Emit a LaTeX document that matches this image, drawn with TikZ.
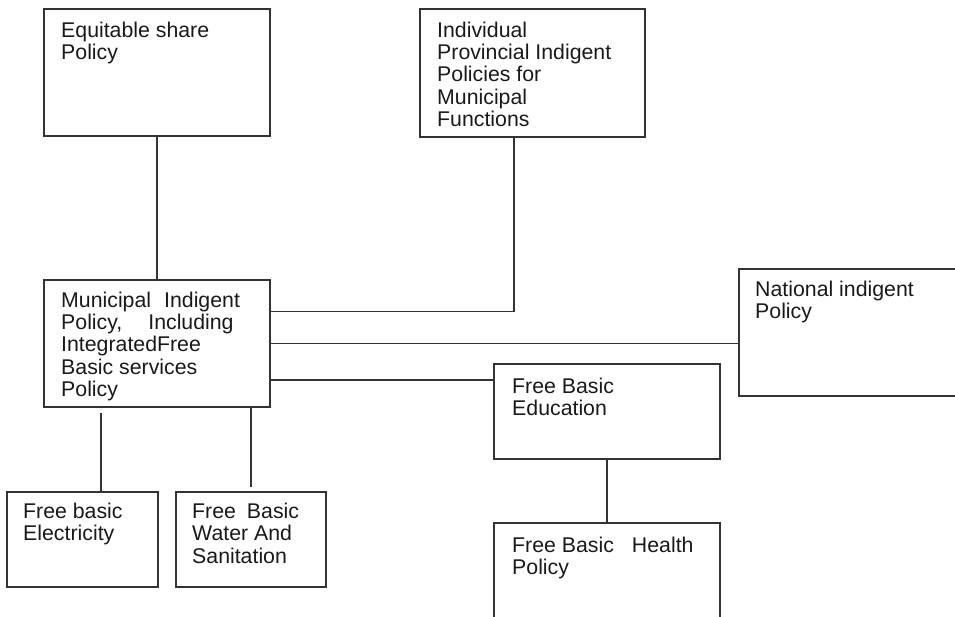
\documentclass[tikz,border=0pt]{standalone}
\usepackage{fontspec}
\setmainfont{Liberation Sans}
\usetikzlibrary{positioning}

\begin{document}
\begin{tikzpicture}[x=1pt,y=-1pt,
    box/.style={draw=black!80, line width=1.3pt, anchor=north west,
      inner sep=0pt, outer sep=0pt},
    boxtext/.style={inner sep=0pt, align=left, text=black!90,
      font=\fontsize{21.3}{22.4}\selectfont},
    link/.style={draw=black!80, line width=1.3pt}]
  \useasboundingbox (0,0) rectangle (955,617);
  \clip (0,0) rectangle (955,617);

  % boxes
  \node[box, minimum width=226pt, minimum height=127pt] (eqshare) at (44,9) {};
  \node[box, minimum width=225pt, minimum height=128pt] (provpol) at (420,9) {};
  \node[box, minimum width=226pt, minimum height=127pt] (munipol) at (44,280) {};
  \node[box, minimum width=240pt, minimum height=127pt] (natpol) at (739,269) {};
  \node[box, minimum width=226pt, minimum height=95pt] (educ) at (494,364) {};
  \node[box, minimum width=226pt, minimum height=110pt] (health) at (494,523) {};
  \node[box, minimum width=151pt, minimum height=95pt] (elec) at (7,492) {};
  \node[box, minimum width=150pt, minimum height=95pt] (water) at (176,492) {};

  % texts
  \node[boxtext, below right=12.4pt and 17pt of eqshare.north west] (eqshare-t)
    {Equitable share\\Policy};
  \node[boxtext, below right=12.4pt and 17pt of provpol.north west] (provpol-t)
    {Individual\\Provincial Indigent\\Policies for\\Municipal\\Functions};
  \node[boxtext, below right=11.4pt and 17pt of munipol.north west] (munipol-t)
    {Municipal\hspace{13pt}Indigent\\Policy,\hspace{26pt}Including\\IntegratedFree\\Basic services\\Policy};
  \node[boxtext, below right=11.7pt and 16pt of natpol.north west] (natpol-t)
    {National indigent\\Policy};
  \node[boxtext, below right=13.7pt and 18pt of educ.north west] (educ-t)
    {Free Basic\\Education};
  \node[boxtext, below right=13.7pt and 18pt of health.north west] (health-t)
    {Free Basic\hspace{18pt}Health\\Policy};
  \node[boxtext, below right=10.7pt and 16pt of elec.north west] (elec-t)
    {Free basic\\Electricity};
  \node[boxtext, below right=10.7pt and 16pt of water.north west] (water-t)
    {Free\hspace{11pt}Basic\\Water And\\Sanitation};

  % connectors
  \draw[link] (eqshare.south) -- (munipol.north);
  \draw[link] ([xshift=-18.5pt]provpol.south) |- ([yshift=31.8pt]munipol.east);
  \draw[link] (munipol.east) -- (munipol.east -| natpol.west);
  \draw[link] ([yshift=-36.5pt]munipol.east) -- ([yshift=-36.5pt]munipol.east -| educ.west);
  \draw[link] (educ.south) -- (health.north);
  \draw[link] ([xshift=18.5pt]elec.north) -- ++(0,-79);
  \draw[link] (munipol.south -| water.north) -- ([yshift=5pt]water.north);
\end{tikzpicture}
\end{document}
